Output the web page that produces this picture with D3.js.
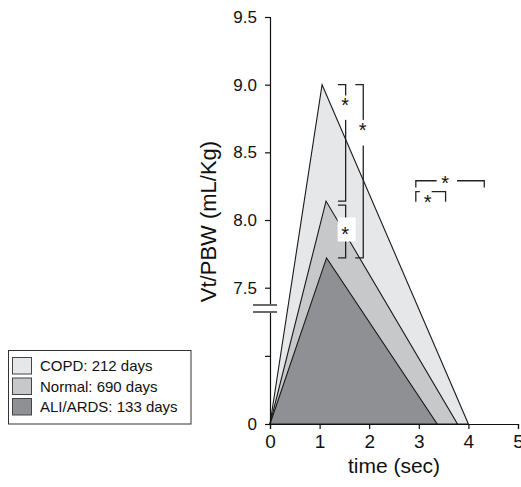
<!DOCTYPE html>
<meta charset="utf-8">
<script src="https://d3js.org/d3.v7.min.js"></script>
<style>
  body { margin: 0; background: #fff; }
  text { font-family: "Liberation Sans", Arial, Helvetica, sans-serif; fill: #111; }
</style>
<div id="chart"></div>
<script>
// data
var groups      = ["COPD", "Normal", "ALI/ARDS"];
var legendText  = ["COPD: 212 days", "Normal: 690 days", "ALI/ARDS: 133 days"];
var peakTime    = [1.05, 1.13, 1.14];   // sec
var peakVt      = [9.0, 8.14, 7.72];    // mL/Kg
var endTime     = [4.0, 3.78, 3.37];    // sec
var fills       = ["#e6e7e9", "#c7c8ca", "#8f9093"];

var xTicks      = [0, 1, 2, 3, 4, 5];
var yTicks      = [0, 3.75, 7.5, 8.0, 8.5, 9.0, 9.5];
var yTickLabels = ["0", "", "7.5", "8.0", "8.5", "9.0", "9.5"];

// significance brackets between peaks (vertical) and end times (horizontal)
var vBrackets = [
  {x: 1.525, x0: 1.37, top: 9.0,  bottom: 8.14, star: 8.88, gap: [8.92, 8.74]},
  {x: 1.88,  x0: 1.72, top: 9.0,  bottom: 7.72, star: 8.70, gap: [8.74, 8.55]},
  {x: 1.525, x0: 1.37, top: 8.11, bottom: 7.72, star: 7.93, box: true}
];
var hBrackets = [
  {x1: 2.94, x2: 4.32, y: 8.29, drop: 8.24,  star: 3.53, gap: [3.36, 3.77]},
  {x1: 2.94, x2: 3.54, y: 8.21, drop: 8.135, star: 3.18, gap: [3.02, 3.26]}
];

var width = 521, height = 487;

var svg = d3.select("#chart").append("svg")
    .attr("width", width)
    .attr("height", height);

// scales (y axis is broken between 0 and 7.5)
var x = d3.scaleLinear().domain([0, 5]).range([270, 518]);
var y = d3.scaleLinear().domain([0, 7.5, 9.5]).range([424, 287.7, 17]);

// triangles, biggest first
var tri = svg.append("g");
groups.forEach(function(g, i) {
  var pts = [[0, 0], [peakTime[i], peakVt[i]], [endTime[i], 0]];
  tri.append("path")
    .attr("d", d3.line().x(function(d) { return x(d[0]); }).y(function(d) { return y(d[1]); })(pts) + "Z")
    .attr("fill", fills[i])
    .attr("stroke", "#1a1a1a")
    .attr("stroke-width", 1.1)
    .attr("stroke-linejoin", "miter");
});

// y axis
var yAxis = svg.append("g")
  .attr("transform", "translate(" + x(0) + ",0)")
  .call(d3.axisLeft(y).tickValues(yTicks)
        .tickFormat(function(d, i) { return yTickLabels[i]; })
        .tickSizeOuter(0).tickSize(5).tickPadding(8));
yAxis.selectAll("text").style("font-size", "17px").attr("font-family", null);

// x axis
var xAxis = svg.append("g")
  .attr("transform", "translate(0," + y(0) + ")")
  .call(d3.axisBottom(x).tickValues(xTicks).tickFormat(d3.format("d"))
        .tickSizeOuter(0).tickSize(5).tickPadding(6));
xAxis.selectAll("text").style("font-size", "19px").attr("font-family", null);
svg.selectAll(".domain, .tick line").attr("stroke", "#111").attr("stroke-width", 1.2);

// axis break
var bTop = 305, bBot = 312;
svg.append("rect").attr("x", x(0) - 2).attr("y", bTop).attr("width", 4).attr("height", bBot - bTop).attr("fill", "#fff");
[bTop, bBot].forEach(function(by) {
  svg.append("line").attr("x1", 253).attr("x2", 277).attr("y1", by).attr("y2", by)
    .attr("stroke", "#6a6a6a").attr("stroke-width", 2);
});

// axis titles
svg.append("text")
  .attr("x", (x(0) + x(5)) / 2).attr("y", 472.5)
  .attr("text-anchor", "middle").style("font-size", "21px")
  .text("time (sec)");
svg.append("text")
  .attr("transform", "translate(216,221.5) rotate(-90)")
  .attr("text-anchor", "middle").style("font-size", "22px")
  .text("Vt/PBW (mL/Kg)");

// significance marks
var sig = svg.append("g").attr("fill", "none").attr("stroke", "#222").attr("stroke-width", 1.3);
var starSize = 20;
function star(cx, cy) {
  svg.append("text").attr("x", cx).attr("y", cy + 0.57 * starSize)
    .attr("text-anchor", "middle").style("font-size", starSize + "px").text("*");
}
vBrackets.forEach(function(b) {
  sig.append("path")
    .attr("d", "M" + x(b.x0) + "," + y(b.top) + "H" + x(b.x) + "V" + y(b.bottom) + "H" + x(b.x0));
  if (b.box) {
    svg.append("rect").attr("x", x(b.x) - 8).attr("y", y(b.star) - 12)
      .attr("width", 18).attr("height", 24).attr("fill", "#fff");
  } else {
    svg.append("rect").attr("x", x(b.x) - 5).attr("y", y(b.gap[0]))
      .attr("width", 10).attr("height", y(b.gap[1]) - y(b.gap[0])).attr("fill", "#fff");
  }
  star(x(b.x) - 0.5, y(b.star));
});
hBrackets.forEach(function(b) {
  sig.append("path")
    .attr("d", "M" + x(b.x1) + "," + y(b.drop) + "V" + y(b.y) + "H" + x(b.gap[0]) +
               "M" + x(b.gap[1]) + "," + y(b.y) + "H" + x(b.x2) + "V" + y(b.drop));
  star(x(b.star), y(b.y) + (b.drop < 8.2 ? 6 : -2));
});

// legend
var lg = svg.append("g");
lg.append("rect").attr("x", 8.5).attr("y", 350.5).attr("width", 182.5).attr("height", 73.5)
  .attr("fill", "#fff").attr("stroke", "#333").attr("stroke-width", 1);
groups.forEach(function(g, i) {
  var ry = 357.5 + i * 20.5;
  lg.append("rect").attr("x", 12.5).attr("y", ry).attr("width", 19).attr("height", 16.5)
    .attr("fill", fills[i]).attr("stroke", "#444").attr("stroke-width", 1);
  lg.append("text").attr("x", 40).attr("y", ry + 13.5).style("font-size", "15px").text(legendText[i]);
});
</script>
